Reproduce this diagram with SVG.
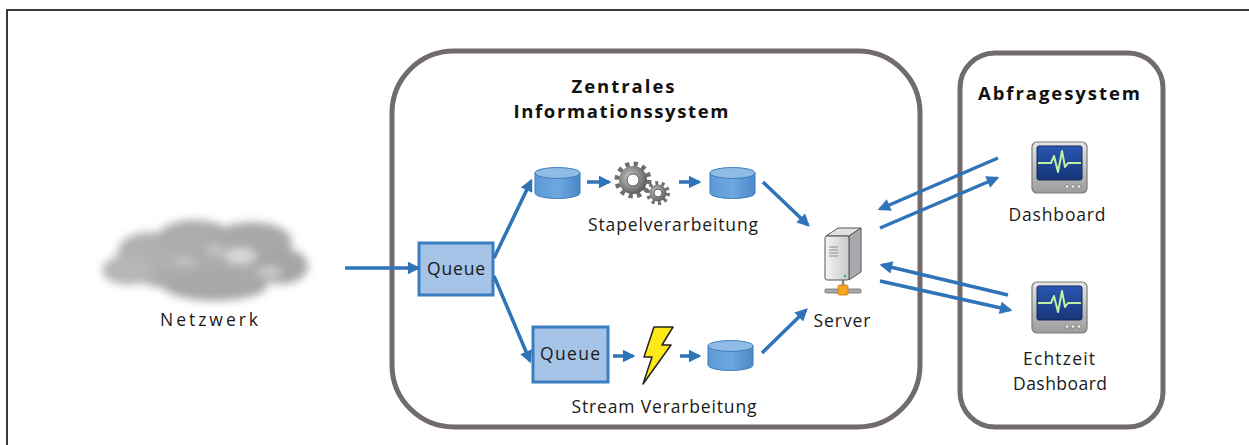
<svg xmlns="http://www.w3.org/2000/svg" width="1249" height="445" viewBox="0 0 1249 445">
  <style>
    .lbl { font-family: "Open Sans", "Liberation Sans", sans-serif; font-size: 17.5px; fill: #1a1a1a; }
    .ttl { font-family: "Open Sans", "Liberation Sans", sans-serif; font-size: 18.5px; font-weight: bold; fill: #111; }
    .frame { fill: none; stroke: #716b6b; stroke-width: 5; }
    .conn { fill: none; stroke: #2f73b9; stroke-width: 3.5; marker-end: url(#ah); }
    .queue { fill: #a5c4e8; stroke: #3b7dc1; stroke-width: 3; }
    .db-body { fill: url(#dbGrad); stroke: #3c7cbd; stroke-width: 1; }
    .db-top { fill: #8fbbe6; stroke: #3c7cbd; stroke-width: 1; }
  </style>
  <defs>
    <marker id="ah" viewBox="0 0 10 10" refX="8" refY="5" markerWidth="4" markerHeight="3.6" orient="auto" markerUnits="strokeWidth">
      <path d="M0,0 L10,5 L0,10 z" fill="#2f73b9"/>
    </marker>
    <linearGradient id="dbGrad" x1="0" y1="0" x2="1" y2="0">
      <stop offset="0" stop-color="#5d9ad6"/>
      <stop offset="0.5" stop-color="#6ea8e0"/>
      <stop offset="1" stop-color="#4a88c8"/>
    </linearGradient>
    <radialGradient id="gearGrad" cx="0.4" cy="0.4" r="0.7">
      <stop offset="0" stop-color="#c8c8c8"/>
      <stop offset="0.6" stop-color="#808080"/>
      <stop offset="1" stop-color="#4f4f4f"/>
    </radialGradient>
    <linearGradient id="bezel" x1="0" y1="0" x2="0" y2="1">
      <stop offset="0" stop-color="#e6e6e6"/>
      <stop offset="1" stop-color="#9c9c9c"/>
    </linearGradient>
    <linearGradient id="screen" x1="0" y1="0" x2="0" y2="1">
      <stop offset="0" stop-color="#2a57b0"/>
      <stop offset="1" stop-color="#16357a"/>
    </linearGradient>
    <linearGradient id="towerFront" x1="0" y1="0" x2="1" y2="0">
      <stop offset="0" stop-color="#f4f4f4"/>
      <stop offset="1" stop-color="#c9c9cc"/>
    </linearGradient>
    <filter id="soft" x="-20%" y="-40%" width="140%" height="180%">
      <feGaussianBlur stdDeviation="4.5"/>
    </filter>
    <g id="monitor">
      <rect x="0" y="0" width="55" height="51" rx="5" fill="url(#bezel)" stroke="#7a7a7a" stroke-width="1.2"/>
      <rect x="5" y="4" width="45" height="34" rx="2" fill="url(#screen)" stroke="#13285c" stroke-width="1"/>
      <polyline points="6,21 19,21 22,14 26,30 30,9 33,25 36,21 49,21" fill="none" stroke="#bff0a6" stroke-width="2" stroke-linejoin="round"/>
      <circle cx="35" cy="44.5" r="2" fill="#e3e3e3" stroke="#7d7d7d" stroke-width="0.8"/>
      <circle cx="41" cy="44.5" r="2" fill="#e3e3e3" stroke="#7d7d7d" stroke-width="0.8"/>
      <circle cx="47" cy="44.5" r="2" fill="#e3e3e3" stroke="#7d7d7d" stroke-width="0.8"/>
    </g>
  </defs>

  <rect width="1249" height="445" fill="#ffffff"/>

  <!-- outer page frame -->
  <path d="M7,445 L7,10 L1249,10" fill="none" stroke="#3a3a3a" stroke-width="2"/>

  <!-- container boxes -->
  <g id="central-system">
    <rect class="frame" x="392" y="51" width="528" height="376" rx="62"/>
    <text class="ttl" x="623" y="93" text-anchor="middle" textLength="103" lengthAdjust="spacing">Zentrales</text>
    <text class="ttl" x="621" y="118" text-anchor="middle" textLength="215" lengthAdjust="spacing">Informationssystem</text>
  </g>
  <g id="query-system">
    <rect class="frame" x="960" y="53" width="203" height="374" rx="35"/>
    <text class="ttl" x="1059" y="100" text-anchor="middle" textLength="162" lengthAdjust="spacing">Abfragesystem</text>
  </g>

  <!-- network cloud -->
  <g id="network">
    <g filter="url(#soft)">
      <ellipse cx="205" cy="263" rx="92" ry="28" fill="#ababab"/>
      <ellipse cx="150" cy="252" rx="32" ry="20" fill="#b0b0b0"/>
      <ellipse cx="195" cy="238" rx="38" ry="18" fill="#acacac"/>
      <ellipse cx="252" cy="242" rx="40" ry="20" fill="#a8a8a8"/>
      <ellipse cx="282" cy="266" rx="26" ry="18" fill="#a6a6a6"/>
      <ellipse cx="128" cy="270" rx="26" ry="15" fill="#b6b6b6"/>
      <ellipse cx="215" cy="286" rx="52" ry="15" fill="#a8a8a8"/>
      <ellipse cx="240" cy="256" rx="16" ry="8" fill="#d8d8d8"/>
      <ellipse cx="270" cy="272" rx="12" ry="5" fill="#cfcfcf"/>
      <ellipse cx="185" cy="262" rx="12" ry="5" fill="#c2c2c2"/>
      <ellipse cx="215" cy="250" rx="9" ry="5" fill="#c8c8c8"/>
    </g>
    <text class="lbl" x="209" y="326" text-anchor="middle" textLength="98" lengthAdjust="spacing">Netzwerk</text>
  </g>

  <!-- entry queue -->
  <g id="queue-in">
    <rect class="queue" x="419" y="243" width="74" height="52"/>
    <text class="lbl" x="456" y="275" text-anchor="middle" textLength="58" lengthAdjust="spacing">Queue</text>
  </g>

  <!-- batch path -->
  <g id="batch-store-in">
    <path class="db-body" d="M535,173 v20 a22.5,5.5 0 0 0 45,0 v-20 z"/>
    <ellipse class="db-top" cx="557.5" cy="173" rx="22.5" ry="5.5"/>
  </g>
  <g id="batch-processing">
    <circle cx="633" cy="180" r="16" fill="none" stroke="#6e6e6e" stroke-width="5" stroke-dasharray="4.2 4.2"/>
    <circle cx="633" cy="180" r="14" fill="url(#gearGrad)"/>
    <circle cx="633" cy="180" r="6" fill="#ffffff" stroke="#5a5a5a" stroke-width="1"/>
    <circle cx="658" cy="193" r="10" fill="none" stroke="#6e6e6e" stroke-width="4" stroke-dasharray="3 3.3"/>
    <circle cx="658" cy="193" r="8.5" fill="url(#gearGrad)"/>
    <circle cx="658" cy="193" r="4" fill="#ffffff" stroke="#5a5a5a" stroke-width="1"/>
    <text class="lbl" x="673" y="231" text-anchor="middle" textLength="170" lengthAdjust="spacing">Stapelverarbeitung</text>
  </g>
  <g id="batch-store-out">
    <path class="db-body" d="M710,173 v20 a22.5,5.5 0 0 0 45,0 v-20 z"/>
    <ellipse class="db-top" cx="732.5" cy="173" rx="22.5" ry="5.5"/>
  </g>

  <!-- stream path -->
  <g id="queue-stream">
    <rect class="queue" x="533" y="327" width="75" height="55"/>
    <text class="lbl" x="570" y="360" text-anchor="middle" textLength="60" lengthAdjust="spacing">Queue</text>
  </g>
  <g id="stream-processing">
    <path d="M654,327 L673,327 L662,345 L671,345 L643,384 L652,357 L644,357 Z" fill="#ffe81a" stroke="#222" stroke-width="1.5" stroke-linejoin="round"/>
    <text class="lbl" x="664" y="413" text-anchor="middle" textLength="185" lengthAdjust="spacing">Stream Verarbeitung</text>
  </g>
  <g id="stream-store">
    <path class="db-body" d="M708,346 v19 a22.5,5.5 0 0 0 45,0 v-19 z"/>
    <ellipse class="db-top" cx="730.5" cy="346" rx="22.5" ry="5.5"/>
  </g>

  <!-- server -->
  <g id="server">
    <line x1="843" y1="279" x2="843" y2="290" stroke="#8a8a8a" stroke-width="2.5"/>
    <rect x="825" y="289" width="36" height="4" rx="1" fill="#a8a8a8" stroke="#6f6f6f" stroke-width="0.8"/>
    <rect x="838" y="285" width="10" height="10" rx="1.5" fill="#f5a623" stroke="#c47a10" stroke-width="0.8"/>
    <polygon points="826,236 838,228 861,228 849,236" fill="#e2e2e4" stroke="#555" stroke-width="1"/>
    <polygon points="849,236 861,228 861,272 849,280" fill="#a9a9ae" stroke="#555" stroke-width="1"/>
    <rect x="825" y="236" width="24" height="44" rx="2" fill="url(#towerFront)" stroke="#555" stroke-width="1"/>
    <path d="M829,247 h9 M829,250 h9 M829,253 h9 M829,256 h9" stroke="#8c8c8c" stroke-width="1"/>
    <circle cx="845" cy="276" r="1.2" fill="#3cb043"/>
    <text class="lbl" x="842" y="327" text-anchor="middle" textLength="57" lengthAdjust="spacing">Server</text>
  </g>

  <!-- dashboards -->
  <g id="dashboard">
    <use href="#monitor" x="1032" y="142"/>
    <text class="lbl" x="1057" y="221" text-anchor="middle" textLength="97" lengthAdjust="spacing">Dashboard</text>
  </g>
  <g id="realtime-dashboard">
    <use href="#monitor" x="1032" y="282"/>
    <text class="lbl" x="1059" y="365" text-anchor="middle" textLength="72" lengthAdjust="spacing">Echtzeit</text>
    <text class="lbl" x="1060" y="390" text-anchor="middle" textLength="94" lengthAdjust="spacing">Dashboard</text>
  </g>

  <!-- data flow connectors -->
  <g id="connectors">
    <path class="conn" d="M345,268 L418,268"/>
    <path class="conn" d="M494,258 L531,181"/>
    <path class="conn" d="M494,276 L530,361"/>
    <path class="conn" d="M587,182 L609,182"/>
    <path class="conn" d="M679,182 L699,182"/>
    <path class="conn" d="M763,182 L808,225"/>
    <path class="conn" d="M613,356 L633,356"/>
    <path class="conn" d="M680,356 L699,356"/>
    <path class="conn" d="M762,353 L806,310"/>
    <path class="conn" d="M998,158 L880,209"/>
    <path class="conn" d="M880,228 L997,178"/>
    <path class="conn" d="M1008,295 L882,265"/>
    <path class="conn" d="M880,281 L1010,310"/>
  </g>
</svg>
